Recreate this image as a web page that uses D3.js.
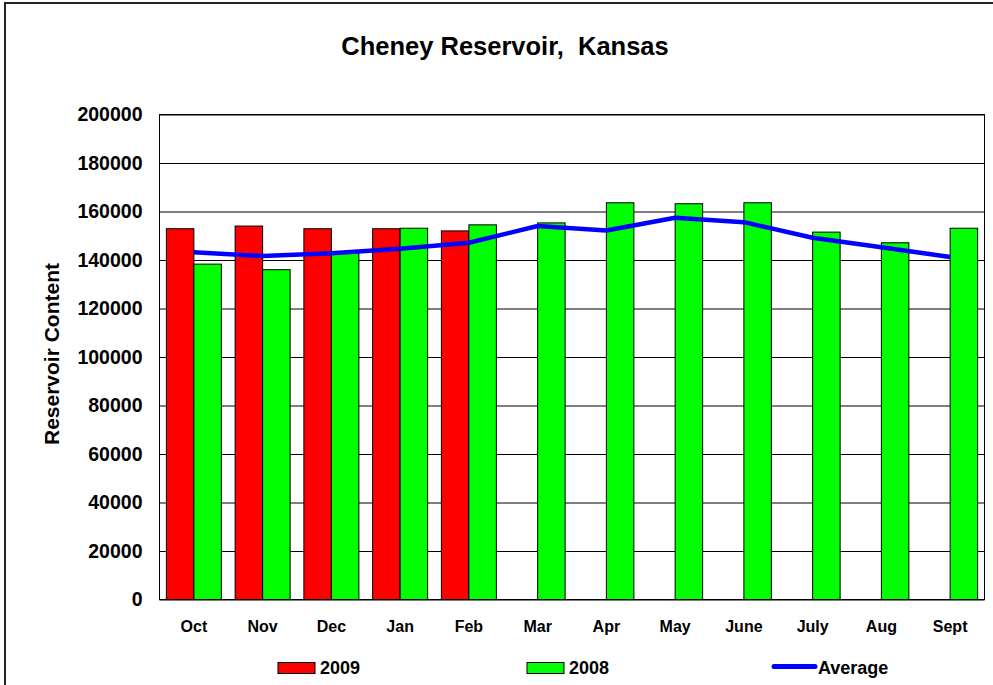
<!DOCTYPE html>
<html>
<head>
<meta charset="utf-8">
<script src="https://cdn.jsdelivr.net/npm/d3@7"></script>
<style>
  body { margin: 0; background: #fff; }
  svg { display: block; font-family: "Liberation Sans", Arial, sans-serif; font-weight: bold; }
</style>
</head>
<body>
<div id="viz"></div>
<script>
const months = ['Oct', 'Nov', 'Dec', 'Jan', 'Feb', 'Mar', 'Apr', 'May', 'June', 'July', 'Aug', 'Sept'];
const series2009 = [152900, 154000, 152900, 152900, 152000, null, null, null, null, null, null, null];
const series2008 = [138300, 136000, 143000, 153100, 154500, 155300, 163600, 163200, 163600, 151500, 147100, 153100];
const average = [143200, 141600, 142800, 144600, 147100, 154000, 152200, 157400, 155600, 149200, 145300, 141200];
const yTicks = [0, 20000, 40000, 60000, 80000, 100000, 120000, 140000, 160000, 180000, 200000];

const WIDTH = 993;
const HEIGHT = 685;
const PLOT = { left: 159.5, top: 114.5, right: 984.5, bottom: 599.5 };

const svg = d3.select('#viz').append('svg')
  .attr('width', WIDTH)
  .attr('height', HEIGHT);

// outer chart frame (cropped at right/bottom)
svg.append('rect')
  .attr('x', 5).attr('y', 3)
  .attr('width', WIDTH + 10).attr('height', HEIGHT + 10)
  .attr('fill', '#fff')
  .attr('stroke', '#222')
  .attr('stroke-width', 2);

const x = d3.scaleBand()
  .domain(months)
  .range([PLOT.left, PLOT.right]);

const xSub = d3.scaleBand()
  .domain(['2009', '2008'])
  .range([0, x.bandwidth()])
  .paddingInner(0)
  .paddingOuter(0.25);

const y = d3.scaleLinear()
  .domain([0, 200000])
  .range([PLOT.bottom, PLOT.top]);

// plot background
svg.append('rect')
  .attr('x', PLOT.left).attr('y', PLOT.top)
  .attr('width', PLOT.right - PLOT.left)
  .attr('height', PLOT.bottom - PLOT.top)
  .attr('fill', '#fff');

// y axis with gridlines
const yAxis = svg.append('g')
  .attr('transform', `translate(${PLOT.left},0)`)
  .call(d3.axisLeft(y)
    .tickValues(yTicks)
    .tickSize(-(PLOT.right - PLOT.left))
    .tickPadding(17)
    .tickFormat(d3.format('d')));
yAxis.select('.domain').remove();
yAxis.selectAll('line').attr('stroke', '#000');
yAxis.selectAll('text')
  .attr('fill', '#000')
  .style('font-size', '19.5px')
  .style('font-weight', 'bold')
  .style('font-family', '"Liberation Sans", Arial, sans-serif');

// bars
const groups = svg.append('g').attr('class', 'bars')
  .selectAll('g')
  .data(months)
  .join('g')
  .attr('transform', d => `translate(${x(d)},0)`);

groups.each(function (m, i) {
  const g = d3.select(this);
  const vals = [
    { key: '2009', v: series2009[i], color: '#ff0000' },
    { key: '2008', v: series2008[i], color: '#00ff00' }
  ].filter(d => d.v != null);
  g.selectAll('rect')
    .data(vals)
    .join('rect')
    .attr('x', d => xSub(d.key))
    .attr('y', d => y(d.v))
    .attr('width', xSub.bandwidth())
    .attr('height', d => y(0) - y(d.v))
    .attr('fill', d => d.color)
    .attr('stroke', '#000')
    .attr('stroke-width', 1);
});

// plot frame
svg.append('rect')
  .attr('x', PLOT.left).attr('y', PLOT.top)
  .attr('width', PLOT.right - PLOT.left)
  .attr('height', PLOT.bottom - PLOT.top)
  .attr('fill', 'none')
  .attr('stroke', '#000')
  .attr('stroke-width', 1);

// average line
const line = d3.line()
  .x((d, i) => x(months[i]) + x.bandwidth() / 2)
  .y(d => y(d));
svg.append('path')
  .datum(average)
  .attr('d', line)
  .attr('fill', 'none')
  .attr('stroke', '#0000ff')
  .attr('stroke-width', 4.5)
  .attr('stroke-linejoin', 'round');

// x axis labels
const xAxis = svg.append('g')
  .attr('transform', `translate(0,${PLOT.bottom})`)
  .call(d3.axisBottom(x).tickSize(0).tickPadding(21));
xAxis.select('.domain').remove();
xAxis.selectAll('text')
  .attr('fill', '#000')
  .style('font-size', '16px')
  .style('font-weight', 'bold')
  .style('font-family', '"Liberation Sans", Arial, sans-serif');

// title
svg.append('text')
  .attr('x', 505)
  .attr('y', 55)
  .attr('text-anchor', 'middle')
  .style('font-size', '25.5px')
  .style('white-space', 'pre')
  .text('Cheney Reservoir,  Kansas');

// y axis title
svg.append('text')
  .attr('transform', 'translate(59,354) rotate(-90)')
  .attr('text-anchor', 'middle')
  .style('font-size', '21px')
  .text('Reservoir Content');

// legend
const legend = [
  { label: '2009', type: 'rect', color: '#ff0000', x: 278 },
  { label: '2008', type: 'rect', color: '#00ff00', x: 527 },
  { label: 'Average', type: 'line', color: '#0000ff', x: 774 }
];
const lg = svg.append('g').attr('class', 'legend');
legend.forEach(d => {
  if (d.type === 'rect') {
    lg.append('rect')
      .attr('x', d.x).attr('y', 662.5)
      .attr('width', 37).attr('height', 11)
      .attr('fill', d.color)
      .attr('stroke', '#000');
    lg.append('text')
      .attr('x', d.x + 42).attr('y', 674)
      .style('font-size', '18px')
      .text(d.label);
  } else {
    lg.append('line')
      .attr('x1', d.x).attr('x2', d.x + 41)
      .attr('y1', 666.5).attr('y2', 666.5)
      .attr('stroke', d.color)
      .attr('stroke-width', 5)
      .attr('stroke-linecap', 'round');
    lg.append('text')
      .attr('x', d.x + 44).attr('y', 674)
      .style('font-size', '18px')
      .text(d.label);
  }
});
</script>
</body>
</html>
